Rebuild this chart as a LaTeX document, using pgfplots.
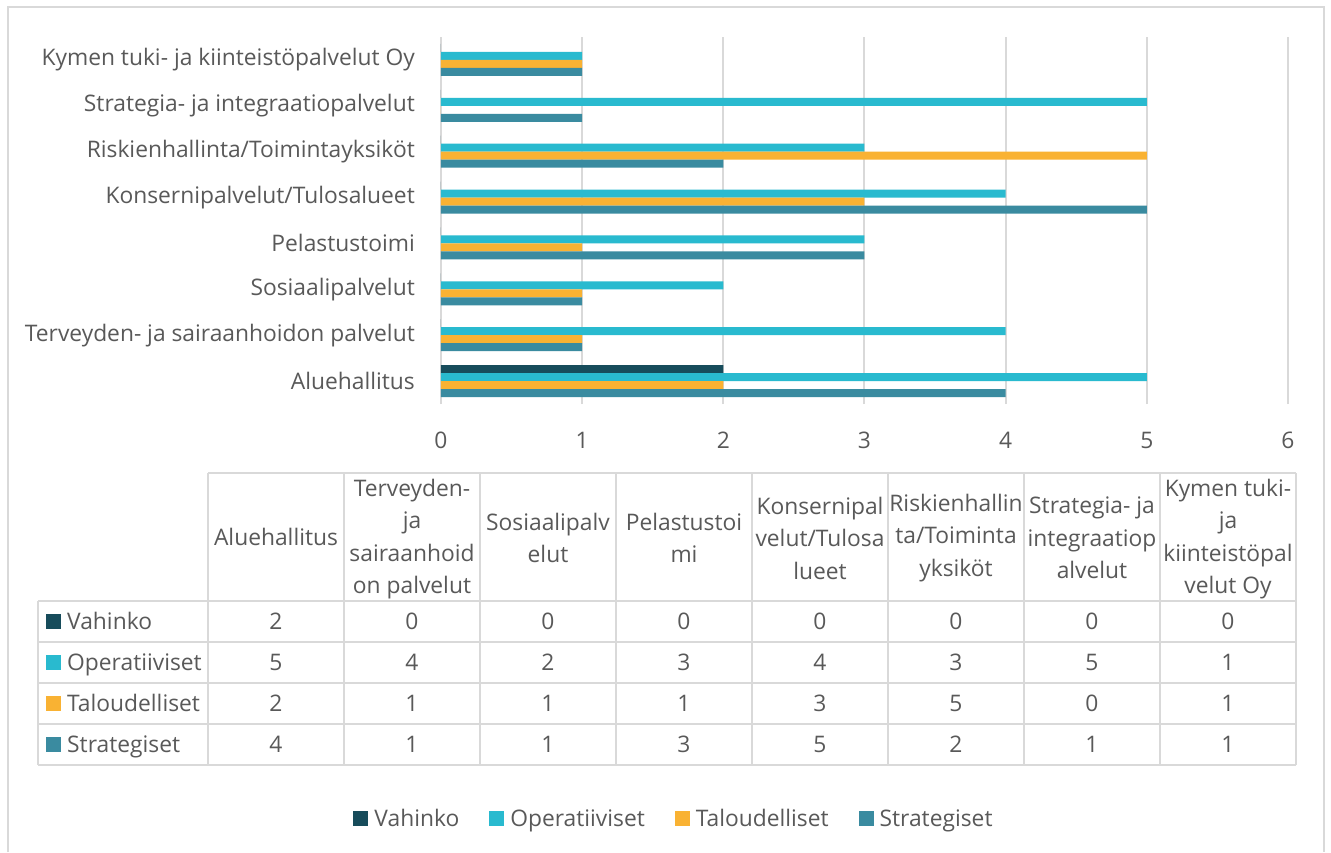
\documentclass[border=0pt]{standalone}
\usepackage{pgfplots}
\pgfplotsset{compat=1.18}
\usepackage{fontspec}
\setmainfont{Open Sans}
\definecolor{cV}{HTML}{174C5B}
\definecolor{cO}{HTML}{29BACF}
\definecolor{cT}{HTML}{F9B233}
\definecolor{cS}{HTML}{3A8BA0}
\definecolor{gridc}{HTML}{D9D9D9}
\definecolor{txt}{HTML}{595959}
\newcommand\fs{\fontsize{22.8}{32.5}\selectfont}
\newcommand\sq[1]{{\color{#1}\rule{15pt}{15pt}}}
\begin{document}
\begin{tikzpicture}
\useasboundingbox (0,0) rectangle (1331pt,-852pt);
\fill[white] (0,0) rectangle (1331pt,-852pt);
\draw[gridc, line width=2pt] (8pt,-852pt) -- (8pt,-7pt) -- (1324pt,-7pt) -- (1324pt,-852pt);
\begin{axis}[
  at={(441pt,-404pt)}, anchor=south west,
  scale only axis, width=847pt, height=367pt,
  xbar, bar width=0.174,
  xmin=0, xmax=6, ymin=-0.5, ymax=7.5,
  xtick={0,1,2,3,4,5,6}, ytick={0,1,2,3,4,5,6,7},
  yticklabels={Aluehallitus, Terveyden- ja sairaanhoidon palvelut, Sosiaalipalvelut, Pelastustoimi, Konsernipalvelut/Tulosalueet, Riskienhallinta/Toimintayksiköt, Strategia- ja integraatiopalvelut, Kymen tuki- ja kiinteistöpalvelut Oy},
  axis line style={draw=none},
  major tick length=0pt,
  xmajorgrids, ymajorgrids=false, grid style={gridc, line width=2pt},
  tick label style={font=\fs, text=txt, inner sep=0pt},
  yticklabel style={anchor=east, xshift=-26pt},
  xticklabel style={anchor=base, yshift=-44pt},
  /pgf/number format/assume math mode=true,
  clip=false,
]
\addplot[fill=cV, draw=none, bar shift=0.261] coordinates {(2,0) (0,1) (0,2) (0,3) (0,4) (0,5) (0,6) (0,7)};
\addplot[fill=cO, draw=none, bar shift=0.087] coordinates {(5,0) (4,1) (2,2) (3,3) (4,4) (3,5) (5,6) (1,7)};
\addplot[fill=cT, draw=none, bar shift=-0.087] coordinates {(2,0) (1,1) (1,2) (1,3) (3,4) (5,5) (0,6) (1,7)};
\addplot[fill=cS, draw=none, bar shift=-0.261] coordinates {(4,0) (1,1) (1,2) (3,3) (5,4) (2,5) (1,6) (1,7)};
\end{axis}
% data table
\draw[gridc, line width=2pt] (208pt,-473pt) -- (1296pt,-473pt);
\foreach \yy in {601,642,683,724,765} \draw[gridc, line width=2pt] (38pt,-\yy pt) -- (1296pt,-\yy pt);
\foreach \xx in {208,344,480,616,752,888,1024,1160,1296} \draw[gridc, line width=2pt] (\xx pt,-473pt) -- (\xx pt,-765pt);
\draw[gridc, line width=2pt] (38pt,-601pt) -- (38pt,-765pt);
\begin{scope}[every node/.style={font=\fs, text=txt, align=center, inner sep=0pt}]
\node at (276pt,-537pt) {Aluehallitus};
\node at (412pt,-539pt) {Terveyden-\\ja\\sairaanhoid\\on palvelut};
\node at (548pt,-538pt) {Sosiaalipalv\\elut};
\node at (684pt,-538pt) {Pelastustoi\\mi};
\node at (820pt,-538pt) {Konsernipal\\velut/Tulosa\\lueet};
\node at (956pt,-538pt) {Riskienhallin\\ta/Toiminta\\yksiköt};
\node at (1092pt,-538pt) {Strategia- ja\\integraatiop\\alvelut};
\node at (1228pt,-539pt) {Kymen tuki-\\ja\\kiinteistöpal\\velut Oy};
\node[anchor=base west] at (46pt,-629pt) {\sq{cV}\hspace{6pt}Vahinko};
\node[anchor=base west] at (46pt,-670pt) {\sq{cO}\hspace{6pt}Operatiiviset};
\node[anchor=base west] at (46pt,-711pt) {\sq{cT}\hspace{6pt}Taloudelliset};
\node[anchor=base west] at (46pt,-752pt) {\sq{cS}\hspace{6pt}Strategiset};
\foreach \v [count=\i] in {2,0,0,0,0,0,0,0} \node[anchor=base] at ({(208+136*(\i-0.5))*1pt},-629pt) {\v};
\foreach \v [count=\i] in {5,4,2,3,4,3,5,1} \node[anchor=base] at ({(208+136*(\i-0.5))*1pt},-670pt) {\v};
\foreach \v [count=\i] in {2,1,1,1,3,5,0,1} \node[anchor=base] at ({(208+136*(\i-0.5))*1pt},-711pt) {\v};
\foreach \v [count=\i] in {4,1,1,3,5,2,1,1} \node[anchor=base] at ({(208+136*(\i-0.5))*1pt},-752pt) {\v};
\node[anchor=base] at (673pt,-826pt) {\sq{cV}\hspace{6pt}Vahinko\hspace{30pt}\sq{cO}\hspace{6pt}Operatiiviset\hspace{30pt}\sq{cT}\hspace{6pt}Taloudelliset\hspace{30pt}\sq{cS}\hspace{6pt}Strategiset};
\end{scope}
\end{tikzpicture}
\end{document}
